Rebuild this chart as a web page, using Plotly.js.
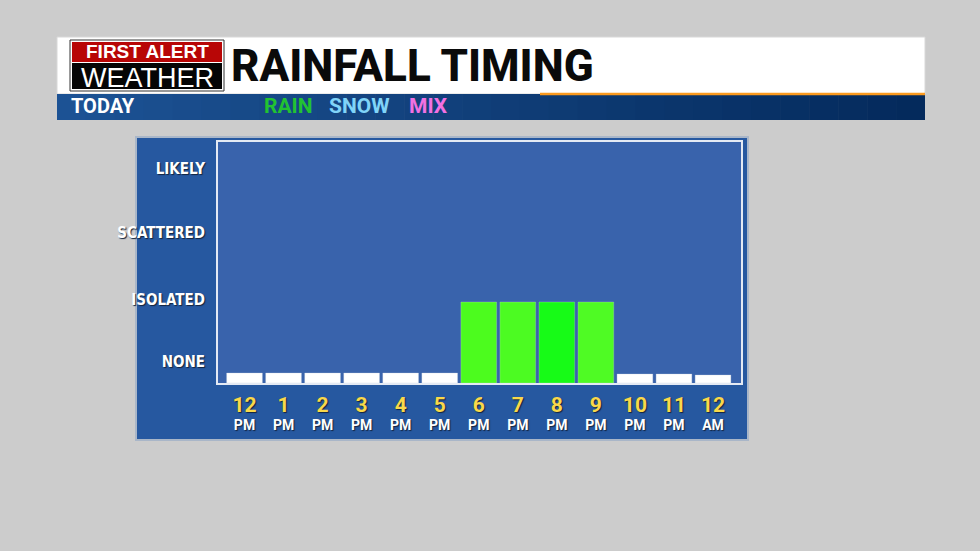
<!DOCTYPE html>
<html>
<head>
<meta charset="utf-8">
<script src="https://cdn.plot.ly/plotly-3.0.1.min.js"></script>
<style>html,body{margin:0;padding:0;background:#cccccc;}#chart{width:980px;height:551px;}</style>
</head>
<body>
<div id="chart"></div>
<script>
// ---- data ----
var hours = ['12','1','2','3','4','5','6','7','8','9','10','11','12'];
var periods = ['PM','PM','PM','PM','PM','PM','PM','PM','PM','PM','PM','PM','AM'];
var rainLevel = [0.166,0.166,0.166,0.166,0.166,0.166,1.344,1.344,1.344,1.344,0.149,0.149,0.133];
var levelLabels = ['NONE','ISOLATED','SCATTERED','LIKELY'];
var levelValues = [0.35,1.39,2.49,3.55];
var barColors = ['#ffffff','#ffffff','#ffffff','#ffffff','#ffffff','#ffffff','#4cfc1e','#4cfb22','#17fb17','#4ffb24','#ffffff','#ffffff','#ffffff'];

// ---- layout helpers (pixel -> paper) ----
var L=218, R=741, T=142, B=383;
function px(x){return (x-L)/(R-L);}
function py(y){return (B-y)/(B-T);}

var xIdx = hours.map(function(_,i){return i;});
var tickText = hours.map(function(h,i){
  return '<span style="color:#f9d84a;font-size:21px">'+h+'</span><br>'+periods[i];
});

var shapes = [];
// panel
shapes.push({type:'rect',xref:'paper',yref:'paper',x0:px(136),x1:px(748),y0:py(137),y1:py(440),
  fillcolor:'#2658a0',line:{color:'#a9b6c8',width:2},layer:'below'});
// plot area fill
shapes.push({type:'rect',xref:'paper',yref:'paper',x0:0,x1:1,y0:0,y1:1,
  fillcolor:'#3963ac',line:{width:0},layer:'below'});
// header white box
shapes.push({type:'rect',xref:'paper',yref:'paper',x0:px(57),x1:px(925),y0:py(37),y1:py(94),
  fillcolor:'#ffffff',line:{color:'#d8d8d8',width:1},layer:'below'});
// blue gradient strip
var N=30, c0=[28,82,148], c1=[4,42,92];
for(var k=0;k<N;k++){
  var t=k/(N-1);
  var c='rgb('+Math.round(c0[0]+(c1[0]-c0[0])*t)+','+Math.round(c0[1]+(c1[1]-c0[1])*t)+','+Math.round(c0[2]+(c1[2]-c0[2])*t)+')';
  var xa=57+(925-57)*k/N, xb=57+(925-57)*(k+1)/N+0.6;
  shapes.push({type:'rect',xref:'paper',yref:'paper',x0:px(xa),x1:px(Math.min(xb,925)),y0:py(94),y1:py(120),
    fillcolor:c,line:{width:0},layer:'below'});
}
// orange line
shapes.push({type:'line',xref:'paper',yref:'paper',x0:px(540),x1:px(925),y0:py(94),y1:py(94),
  line:{color:'#fb9a1e',width:2.5},layer:'below'});
// logo boxes
shapes.push({type:'rect',xref:'paper',yref:'paper',x0:px(70),x1:px(224),y0:py(40),y1:py(91),
  fillcolor:'#ffffff',line:{color:'#333333',width:1},layer:'below'});
shapes.push({type:'rect',xref:'paper',yref:'paper',x0:px(72),x1:px(222),y0:py(42),y1:py(62),
  fillcolor:'#b80606',line:{width:0},layer:'below'});
shapes.push({type:'rect',xref:'paper',yref:'paper',x0:px(72),x1:px(222),y0:py(63),y1:py(89),
  fillcolor:'#050505',line:{width:0},layer:'below'});

function ann(text,x,y,font,xanchor){
  return {text:text,xref:'paper',yref:'paper',x:px(x),y:py(y),showarrow:false,
    xanchor:xanchor||'left',yanchor:'middle',font:font};
}
var annotations = [
  ann('FIRST ALERT',147,51.5,{family:'Liberation Sans',size:19,color:'#ffffff',weight:700},'center'),
  ann('WEATHER',147,77.5,{family:'Liberation Sans',size:27,color:'#ffffff',weight:400},'center'),
  ann('RAINFALL TIMING',229,66,{family:'Roboto',size:44,color:'#0a0a0a',weight:800}),
  ann('TODAY',69,106,{family:'Roboto',size:20,color:'#ffffff',weight:700}),
  ann('RAIN',262,106,{family:'Roboto',size:21,color:'#22c232',weight:700}),
  ann('SNOW',327,106,{family:'Roboto',size:21,color:'#80d4f8',weight:700}),
  ann('MIX',407,106,{family:'Roboto',size:21,color:'#f271e2',weight:700})
];

var trace = {
  type:'bar', x:xIdx, y:rainLevel,
  marker:{color:barColors,line:{color:'rgba(200,210,225,0.6)',width:0.5}},
  hoverinfo:'skip'
};

var layout = {
  width:980,height:551,
  margin:{l:L,r:980-R,t:T,b:551-B,pad:0},
  paper_bgcolor:'#cccccc',plot_bgcolor:'rgba(0,0,0,0)',
  showlegend:false,bargap:0.085,
  xaxis:{range:[-0.679,12.717],tickvals:xIdx,ticktext:tickText,showgrid:false,zeroline:false,
    showline:true,mirror:true,linecolor:'#e4eaf4',linewidth:2,ticks:'',ticklabelstandoff:10,
    tickfont:{family:'Roboto',size:14,color:'#ffffff',weight:700,shadow:'1px 1px 1px #15243d'}},
  yaxis:{range:[0,4],tickvals:levelValues,ticktext:levelLabels,showgrid:false,zeroline:false,
    showline:true,mirror:true,linecolor:'#e4eaf4',linewidth:2,ticks:'',ticklabelstandoff:8,
    tickfont:{family:'DejaVu Sans Condensed, Liberation Sans, sans-serif',size:15,color:'#ffffff',weight:700,shadow:'1px 1px 1px #15243d'}},
  shapes:shapes, annotations:annotations
};
Plotly.newPlot('chart',[trace],layout,{displayModeBar:false,staticPlot:true});
</script>
</body>
</html>
